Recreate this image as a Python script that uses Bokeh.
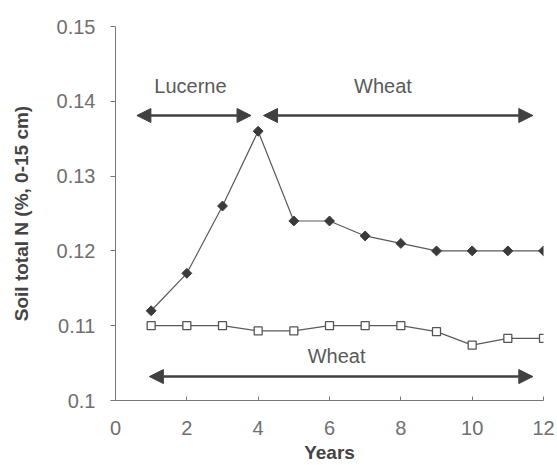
import math
from bokeh.plotting import figure
from bokeh.models import Arrow, NormalHead, Label, Range1d, FixedTicker
from bokeh.embed import file_html
from bokeh.resources import INLINE

years = [1, 2, 3, 4, 5, 6, 7, 8, 9, 10, 11, 12]
lucerne_wheat = [0.112, 0.117, 0.126, 0.136, 0.124, 0.124, 0.122, 0.121, 0.120, 0.120, 0.120, 0.120]
wheat_wheat = [0.110, 0.110, 0.110, 0.1093, 0.1093, 0.110, 0.110, 0.110, 0.1092, 0.1074, 0.1083, 0.1083]
x_ticks = [0, 2, 4, 6, 8, 10, 12]
y_ticks = [0.10, 0.11, 0.12, 0.13, 0.14, 0.15]
y_tick_labels = {0.10: "0.1", 0.11: "0.11", 0.12: "0.12", 0.13: "0.13", 0.14: "0.14", 0.15: "0.15"}

FONT = "Liberation Sans"

p = figure(width=557, height=465, output_backend="svg", toolbar_location=None,
           x_range=Range1d(0, 12), y_range=Range1d(0.1, 0.15),
           min_border_left=115, min_border_right=14, min_border_top=26, min_border_bottom=64)
p.outline_line_color = None
p.xgrid.visible = False
p.ygrid.visible = False
p.background_fill_color = "white"

line_col = "#5a5a5a"
p.line(years, lucerne_wheat, line_color=line_col, line_width=1.2)
p.scatter(years, lucerne_wheat, marker="square", angle=math.pi / 4, size=7,
          fill_color="#3a3a3a", line_color="#3a3a3a")
p.line(years, wheat_wheat, line_color=line_col, line_width=1.2)
p.scatter(years, wheat_wheat, marker="square", size=8, fill_color="white", line_color="#555555", line_width=1.3)

arrow_col = "#404040"
def head():
    return NormalHead(size=14, fill_color=arrow_col, line_color=arrow_col)

p.add_layout(Arrow(x_start=2.2, y_start=0.1381, x_end=0.6, y_end=0.1381, end=head(),
                   line_color=arrow_col, line_width=2.5))
p.add_layout(Arrow(x_start=2.2, y_start=0.1381, x_end=3.8, y_end=0.1381, end=head(),
                   line_color=arrow_col, line_width=2.5))
p.add_layout(Arrow(x_start=4.15, y_start=0.1381, x_end=11.7, y_end=0.1381, start=head(), end=head(),
                   line_color=arrow_col, line_width=2.5))
p.add_layout(Arrow(x_start=0.95, y_start=0.1032, x_end=11.7, y_end=0.1032, start=head(), end=head(),
                   line_color=arrow_col, line_width=2.5))

for x, y, t in [(2.1, 0.1420, "Lucerne"), (7.5, 0.1420, "Wheat"), (6.2, 0.1059, "Wheat")]:
    p.add_layout(Label(x=x, y=y, text=t, text_align="center", text_baseline="middle",
                       text_font=FONT, text_font_size="20px", text_color="#5a5a5a"))

p.xaxis.ticker = FixedTicker(ticks=x_ticks)
p.yaxis.ticker = FixedTicker(ticks=y_ticks)
p.yaxis.major_label_overrides = y_tick_labels
for ax in (p.xaxis, p.yaxis):
    ax.axis_line_color = "#777777"
    ax.major_tick_line_color = "#777777"
    ax.minor_tick_line_color = None
    ax.major_label_text_font = FONT
    ax.major_label_text_font_size = "20px"
    ax.major_label_text_color = "#6f6f6f"
    ax.axis_label_text_font = FONT
    ax.axis_label_text_font_size = "19px"
    ax.axis_label_text_font_style = "bold"
    ax.axis_label_text_color = "#444444"
p.xaxis.major_tick_in = 4
p.xaxis.major_tick_out = 0
p.yaxis.major_tick_in = 0
p.yaxis.major_tick_out = 5
p.xaxis.major_label_standoff = 20
p.yaxis.major_label_standoff = 15
p.xaxis.axis_label = "Years"
p.yaxis.axis_label = "Soil total N (%, 0-15 cm)"
p.xaxis.axis_label_standoff = 4
p.yaxis.axis_label_standoff = 22

open("out.html", "w").write(file_html(p, INLINE))
